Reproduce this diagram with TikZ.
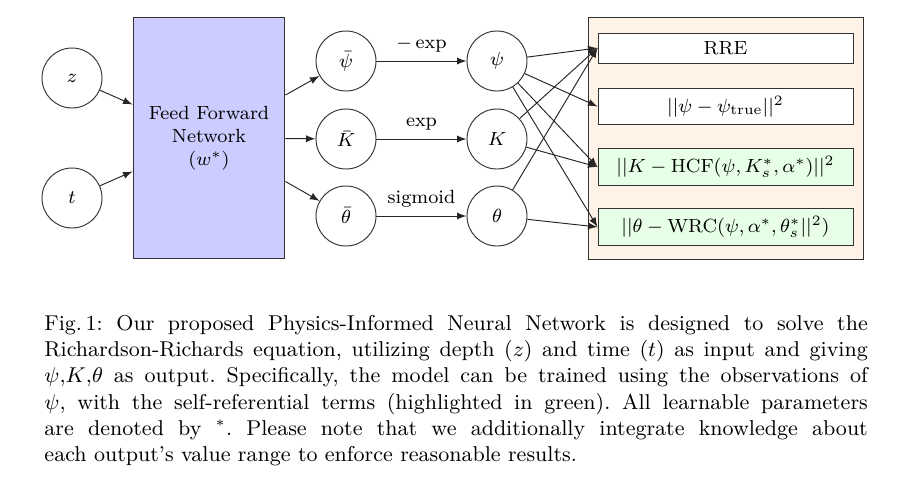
\documentclass[tikz,border=0pt]{standalone}
\usetikzlibrary{positioning, arrows.meta}
\usepackage{xcolor}
\definecolor{ffn}{HTML}{CCCCFF}
\definecolor{lossbg}{HTML}{FFF2E6}
\definecolor{selfref}{HTML}{E6FFE6}

\begin{document}
\begin{tikzpicture}[
    x=0.42pt, y=-0.42pt, >=latex,
    every node/.style={font=\fontsize{8}{9.6}\selectfont},
    unit/.style={draw=black!80, circle, minimum size=25.2pt, inner sep=0pt},
    block/.style={draw=black!80, minimum width=107.1pt, minimum height=12.6pt, text centered},
    link/.style={->, draw=black!85},
]
\useasboundingbox (0,0) rectangle (902,485);

% ── Inputs and network ──
\node[unit] (z) at (72, 78) {$z$};
\node[unit] (t) at (72, 198) {$t$};
\node[draw=black!80, fill=ffn, minimum width=63.8pt, minimum height=101.6pt, align=center] (net) at (209, 138) {Feed Forward\\Network\\($w^*$)};

\draw[link] (z) -- (net);
\draw[link] (t) -- (net);

% ── Raw and transformed outputs ──
\node[unit] (psibar) at (346, 61) {$\bar{\psi}$};
\node[unit] (Kbar) at (346, 139) {$\bar{K}$};
\node[unit] (thetabar) at (346, 216) {$\bar{\theta}$};
\node[unit] (psi) at (497, 61) {$\psi$};
\node[unit] (K) at (497, 139) {$K$};
\node[unit] (theta) at (497, 216) {$\theta$};

\draw[link] (net) -- (psibar);
\draw[link] (net) -- (Kbar);
\draw[link] (net) -- (thetabar);
\draw[link] (psibar) -- node[above] {$-\exp$} (psi);
\draw[link] (Kbar) -- node[above] {$\exp$} (K);
\draw[link] (thetabar) -- node[above] {sigmoid} (theta);

% ── Loss terms ──
\node[draw=black!80, fill=lossbg, minimum width=115.5pt, minimum height=102pt] (loss) at (725.5, 138.5) {};
\node[block, fill=white] (rre) at (725.5, 48) {RRE};
\node[block, fill=white] (obs) at (725.5, 106.5) {$||\psi-\psi_{\mathrm{true}}||^2$};
\node[block, fill=selfref] (hcf) at (725.5, 167) {$||K-\mathrm{HCF}(\psi,K_s^*,\alpha^*)||^2$};
\node[block, fill=selfref] (wrc) at (725.5, 227) {$||\theta-\mathrm{WRC}(\psi,\alpha^*,\theta_s^*||^2)$};

\draw[link] (psi) -- (rre.west);
\draw[link] (psi) -- (obs.west);
\draw[link] (psi) -- (hcf.west);
\draw[link] (psi) -- (wrc.west);
\draw[link] (K) -- (rre.west);
\draw[link] (K) -- (hcf.west);
\draw[link] (theta) -- (rre.west);
\draw[link] (theta) -- (wrc.west);

% ── Caption ──
\node[anchor=north west, inner sep=0pt, text width=345.8pt, align=justify, font=\fontsize{9}{11}\selectfont\frenchspacing] (caption) at (44, 315) {Fig.\,1: Our proposed Physics-Informed Neural Network is designed to solve the\linebreak Richardson-Richards equation, utilizing depth ($z$) and time ($t$) as input and giving\linebreak $\psi$,$K$,$\theta$ as output. Specifically, the model can be trained using the observations of\linebreak $\psi$, with the self-referential terms (highlighted in green). All learnable parameters\linebreak are denoted by $^*$. Please note that we additionally integrate knowledge about\linebreak each output's value range to enforce reasonable results.};

\end{tikzpicture}
\end{document}
